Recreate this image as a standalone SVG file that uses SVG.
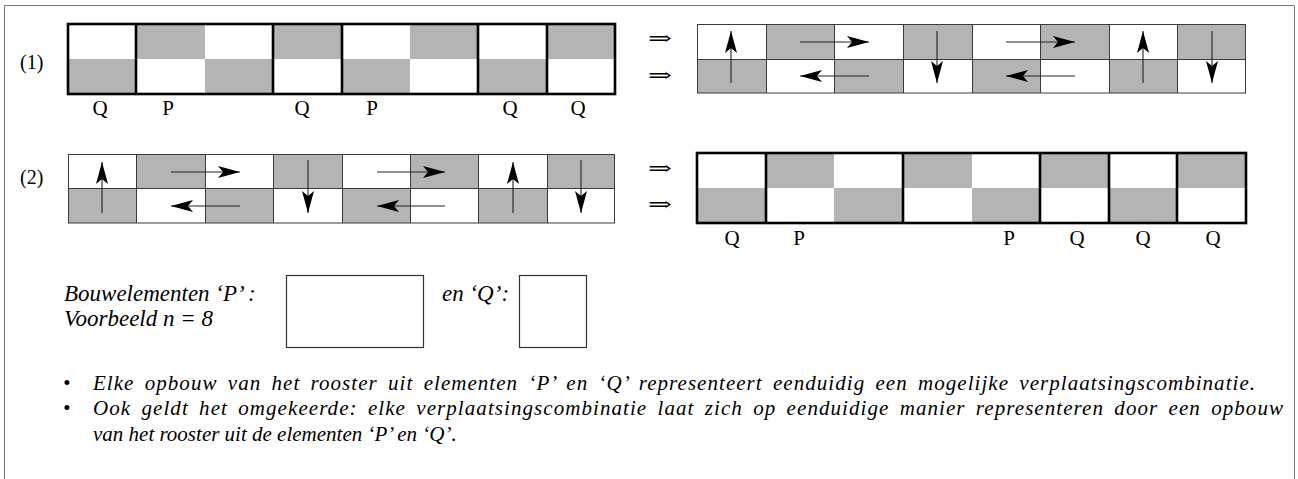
<svg xmlns="http://www.w3.org/2000/svg" width="1298" height="479" viewBox="0 0 1298 479">
<style>
.bg{fill:#ffffff}
.sh{fill:#b4b4b4}
.thick{fill:none;stroke:#000;stroke-width:2.6}
.thin{fill:none;stroke:#3a3a3a;stroke-width:1}
.arr{stroke:#222;stroke-width:1.1;fill:none;marker-end:url(#ah)}
.lbl{font-family:"Liberation Serif","Times New Roman",serif;font-size:21px;fill:#000;text-anchor:middle}
.num{font-family:"Liberation Serif","Times New Roman",serif;font-size:20px;fill:#000}
.impl{font-family:"DejaVu Serif","DejaVu Sans",serif;font-size:20px;fill:#000}
.it{font-family:"Liberation Serif","Times New Roman",serif;font-style:italic;font-size:23px;fill:#000}
.bt{font-family:"Liberation Serif","Times New Roman",serif;font-style:italic;font-size:21px;fill:#000}
.ws{word-spacing:4px}
.frame{stroke:#777;stroke-width:1;fill:none}
.box{fill:none;stroke:#333;stroke-width:1.2}
</style>
<defs>
<marker id="ah" markerUnits="userSpaceOnUse" viewBox="0 0 22 14" markerWidth="22" markerHeight="14" refX="22" refY="7" orient="auto">
<path d="M0,1 L22,7 L0,13 L5,7 Z" fill="#000"/>
</marker>
</defs>
<rect class="bg" x="0" y="0" width="1298" height="479"/>
<g id="frame">
<line class="frame" x1="4.5" y1="5.5" x2="4.5" y2="479"/>
<line class="frame" x1="4.5" y1="5.5" x2="1294" y2="5.5" stroke="#aaa"/>
<line class="frame" x1="1294.5" y1="5.5" x2="1294.5" y2="479"/>
</g>

<g id="row1-label"><text class="num" x="20" y="69">(1)</text></g>
<g id="row2-label"><text class="num" x="20" y="184">(2)</text></g>

<g id="grid-1-left">
<rect class="sh" x="68" y="59" width="68" height="35"/>
<rect class="sh" x="136" y="24" width="69" height="35"/>
<rect class="sh" x="205" y="59" width="68" height="35"/>
<rect class="sh" x="273" y="24" width="69" height="35"/>
<rect class="sh" x="342" y="59" width="68" height="35"/>
<rect class="sh" x="410" y="24" width="68" height="35"/>
<rect class="sh" x="478" y="59" width="69" height="35"/>
<rect class="sh" x="547" y="24" width="68" height="35"/>
<rect class="thick" x="68" y="24" width="547" height="70"/>
<path class="thick" d="M136,24V94M273,24V94M342,24V94M478,24V94M547,24V94"/>
<text class="lbl" x="100" y="115">Q</text>
<text class="lbl" x="168" y="115">P</text>
<text class="lbl" x="302" y="115">Q</text>
<text class="lbl" x="372" y="115">P</text>
<text class="lbl" x="510" y="115">Q</text>
<text class="lbl" x="578" y="115">Q</text>
</g>

<g id="implies-1">
<text class="impl" x="648" y="45" textLength="24" lengthAdjust="spacingAndGlyphs">⇒</text>
<text class="impl" x="648" y="82" textLength="24" lengthAdjust="spacingAndGlyphs">⇒</text>
</g>

<g id="grid-1-right">
<rect class="sh" x="697" y="59" width="69" height="34"/>
<rect class="sh" x="766" y="24" width="68" height="35"/>
<rect class="sh" x="834" y="59" width="69" height="34"/>
<rect class="sh" x="903" y="24" width="69" height="35"/>
<rect class="sh" x="972" y="59" width="68" height="34"/>
<rect class="sh" x="1040" y="24" width="69" height="35"/>
<rect class="sh" x="1109" y="59" width="68" height="34"/>
<rect class="sh" x="1177" y="24" width="69" height="35"/>
<rect class="thin" x="697.5" y="24.5" width="548" height="68.5"/>
<path class="thin" d="M697,59.5H1246M766.5,24V93M834.5,24V93M903.5,24V93M972.5,24V93M1040.5,24V93M1109.5,24V93M1177.5,24V93"/>
</g>

<g id="grid-2-left">
<rect class="sh" x="68" y="188.5" width="68" height="34.5"/>
<rect class="sh" x="136" y="154" width="69" height="34.5"/>
<rect class="sh" x="205" y="188.5" width="68" height="34.5"/>
<rect class="sh" x="273" y="154" width="69" height="34.5"/>
<rect class="sh" x="342" y="188.5" width="68" height="34.5"/>
<rect class="sh" x="410" y="154" width="68" height="34.5"/>
<rect class="sh" x="478" y="188.5" width="69" height="34.5"/>
<rect class="sh" x="547" y="154" width="68" height="34.5"/>
<rect class="thin" x="68.5" y="154.5" width="546" height="68.5"/>
<path class="thin" d="M68,188.5H615M136.5,154V223M205.5,154V223M273.5,154V223M342.5,154V223M410.5,154V223M478.5,154V223M547.5,154V223"/>
</g>

<g id="implies-2">
<text class="impl" x="648" y="175" textLength="24" lengthAdjust="spacingAndGlyphs">⇒</text>
<text class="impl" x="648" y="211" textLength="24" lengthAdjust="spacingAndGlyphs">⇒</text>
</g>

<g id="grid-2-right">
<rect class="sh" x="697" y="188" width="69" height="35"/>
<rect class="sh" x="766" y="153" width="68" height="35"/>
<rect class="sh" x="834" y="188" width="69" height="35"/>
<rect class="sh" x="903" y="153" width="69" height="35"/>
<rect class="sh" x="972" y="188" width="68" height="35"/>
<rect class="sh" x="1040" y="153" width="69" height="35"/>
<rect class="sh" x="1109" y="188" width="68" height="35"/>
<rect class="sh" x="1177" y="153" width="69" height="35"/>
<rect class="thick" x="697" y="153" width="549" height="70"/>
<path class="thick" d="M766,153V223M903,153V223M1040,153V223M1109,153V223M1177,153V223"/>
<text class="lbl" x="732" y="245">Q</text>
<text class="lbl" x="799" y="245">P</text>
<text class="lbl" x="1009" y="245">P</text>
<text class="lbl" x="1077" y="245">Q</text>
<text class="lbl" x="1143" y="245">Q</text>
<text class="lbl" x="1213" y="245">Q</text>
</g>

<g id="connectors">
<line class="arr" x1="731" y1="83" x2="731" y2="31"/>
<line class="arr" x1="800" y1="42" x2="869" y2="42"/>
<line class="arr" x1="869" y1="76" x2="800" y2="76"/>
<line class="arr" x1="937" y1="31" x2="937" y2="83"/>
<line class="arr" x1="1006" y1="42" x2="1075" y2="42"/>
<line class="arr" x1="1075" y1="76" x2="1006" y2="76"/>
<line class="arr" x1="1143" y1="83" x2="1143" y2="31"/>
<line class="arr" x1="1212" y1="31" x2="1212" y2="83"/>
<line class="arr" x1="102" y1="213" x2="102" y2="162"/>
<line class="arr" x1="171" y1="172" x2="240" y2="172"/>
<line class="arr" x1="240" y1="206" x2="171" y2="206"/>
<line class="arr" x1="308" y1="160" x2="308" y2="213"/>
<line class="arr" x1="377" y1="172" x2="445" y2="172"/>
<line class="arr" x1="445" y1="206" x2="377" y2="206"/>
<line class="arr" x1="513" y1="213" x2="513" y2="162"/>
<line class="arr" x1="581" y1="160" x2="581" y2="213"/>
</g>

<g id="legend">
<text class="it" x="64" y="301">Bouwelementen ‘P’ :</text>
<text class="it" x="64" y="326">Voorbeeld n = 8</text>
<rect class="box" x="286.5" y="275.5" width="137" height="72"/>
<text class="it" x="442" y="301">en ‘Q’:</text>
<rect class="box" x="519.5" y="275.5" width="67" height="72"/>
</g>

<g id="bullets">
<text class="bt" x="63" y="390">•</text>
<text class="bt ws" x="93" y="390" textLength="1162">Elke opbouw van het rooster uit elementen ‘P’ en ‘Q’ representeert eenduidig een mogelijke verplaatsingscombinatie.</text>
<text class="bt" x="63" y="415">•</text>
<text class="bt ws" x="93" y="415" textLength="1190">Ook geldt het omgekeerde: elke verplaatsingscombinatie laat zich op eenduidige manier representeren door een opbouw</text>
<text class="bt" x="93" y="441">van het rooster uit de elementen ‘P’ en ‘Q’.</text>
</g>
</svg>
